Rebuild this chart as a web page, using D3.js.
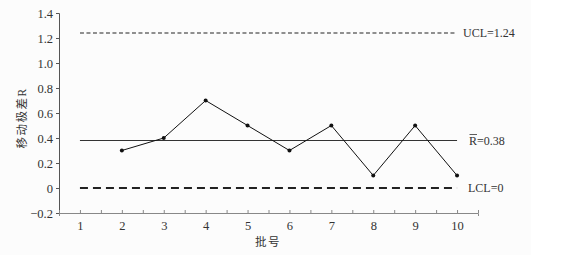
<!DOCTYPE html>
<html>
<head>
<meta charset="utf-8">
<script src="https://cdn.jsdelivr.net/npm/d3@7"></script>
<style>
  body { margin: 0; background: #fff; }
  svg text { font-family: "Liberation Serif", "Noto Sans CJK SC", serif; fill: #333; }
</style>
</head>
<body>
<svg id="chart" width="566" height="255"></svg>
<script>
// batch numbers and moving range values
var batches = [2, 3, 4, 5, 6, 7, 8, 9, 10];
var ranges = [0.3, 0.4, 0.7, 0.5, 0.3, 0.5, 0.1, 0.5, 0.1];
var xTicks = [1, 2, 3, 4, 5, 6, 7, 8, 9, 10];
var yTicks = [-0.2, 0, 0.2, 0.4, 0.6, 0.8, 1.0, 1.2, 1.4];
var ucl = 1.24, rbar = 0.38, lcl = 0;

var svg = d3.select("#chart");

// faint page area like the scan
svg.append("rect").attr("x", 0).attr("y", 0).attr("width", 531).attr("height", 255).attr("fill", "#fcfcfc");

var x = d3.scaleLinear().domain([0.5, 10.5]).range([59, 478]);
var y = d3.scaleLinear().domain([-0.2, 1.4]).range([213, 13]);

// y axis
var yAxis = svg.append("g")
    .attr("transform", "translate(59,0)")
    .call(d3.axisLeft(y).tickValues(yTicks).tickSize(3).tickPadding(3)
      .tickFormat(function(d) { return d === 0 ? "0" : (d < 0 ? "\u22120.2" : d3.format(".1f")(d)); }));
yAxis.select(".domain").attr("stroke", "#555");
yAxis.selectAll(".tick line").attr("stroke", "#555");
yAxis.selectAll("text").attr("font-size", 12.5).attr("fill", "#333")
    .style("font-family", "'Liberation Serif', serif");

// x axis, ticks at every half step, labels at integers
var xAxis = svg.append("g")
    .attr("transform", "translate(0,213)")
    .call(d3.axisBottom(x).tickValues(d3.range(0.5, 10.51, 0.5)).tickSize(3).tickPadding(5)
      .tickFormat(function(d) { return Number.isInteger(d) ? d : ""; }));
xAxis.select(".domain").attr("stroke", "#888");
xAxis.selectAll(".tick line").attr("stroke", "#888").attr("transform", "translate(0,-3)");
xAxis.selectAll("text").attr("font-size", 12.5).attr("fill", "#333")
    .style("font-family", "'Liberation Serif', serif");

// control lines
svg.append("line")
    .attr("x1", x(1)).attr("x2", x(10)).attr("y1", y(ucl)).attr("y2", y(ucl))
    .attr("stroke", "#222").attr("stroke-width", 1.2).attr("stroke-dasharray", "4,2.5");
svg.append("line")
    .attr("x1", x(1)).attr("x2", x(10)).attr("y1", y(rbar)).attr("y2", y(rbar))
    .attr("stroke", "#333").attr("stroke-width", 1);
svg.append("line")
    .attr("x1", x(1)).attr("x2", x(10)).attr("y1", y(lcl)).attr("y2", y(lcl))
    .attr("stroke", "#222").attr("stroke-width", 2).attr("stroke-dasharray", "8,5");

// data line
var line = d3.line()
    .x(function(d, i) { return x(batches[i]); })
    .y(function(d) { return y(d); });
svg.append("path").datum(ranges)
    .attr("d", line).attr("fill", "none").attr("stroke", "#111").attr("stroke-width", 1);
svg.selectAll("circle.pt").data(ranges).enter().append("circle")
    .attr("class", "pt")
    .attr("cx", function(d, i) { return x(batches[i]); })
    .attr("cy", function(d) { return y(d); })
    .attr("r", 2).attr("fill", "#111");

// line labels
svg.append("text").attr("x", 463).attr("y", y(ucl) + 4).attr("font-size", 12).text("UCL=1.24");
svg.append("text").attr("x", 469).attr("y", y(rbar) + 4).attr("font-size", 12).text("R=0.38");
svg.append("line")
    .attr("x1", 469.5).attr("x2", 477).attr("y1", y(rbar) - 6).attr("y2", y(rbar) - 6)
    .attr("stroke", "#333").attr("stroke-width", 0.8);
svg.append("text").attr("x", 468).attr("y", y(lcl) + 4).attr("font-size", 12).text("LCL=0");

// axis titles
svg.append("text")
    .attr("transform", "translate(26,118) rotate(-90)")
    .attr("text-anchor", "middle").attr("font-size", 11.5).attr("fill", "#444")
    .attr("letter-spacing", 1.5)
    .text("移动极差R");
svg.append("text")
    .attr("x", 268).attr("y", 246)
    .attr("text-anchor", "middle").attr("font-size", 11.5).attr("fill", "#444")
    .attr("letter-spacing", 1.5)
    .text("批号");
</script>
</body>
</html>
